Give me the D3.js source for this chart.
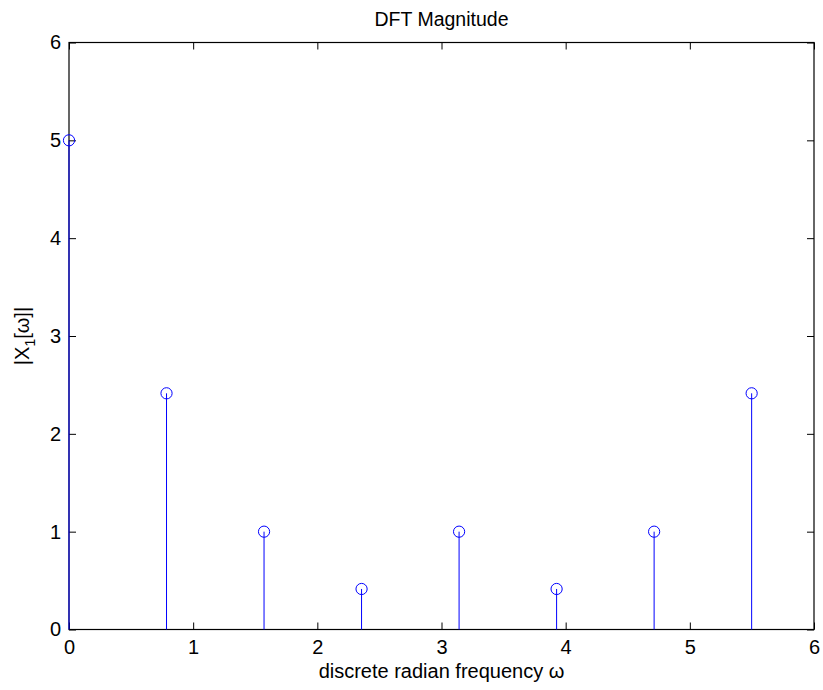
<!DOCTYPE html>
<html>
<head>
<meta charset="utf-8">
<script src="https://cdn.jsdelivr.net/npm/d3@7"></script>
<style>
  body { margin: 0; background: #fff; }
  text { font-family: "Liberation Sans", Arial, Helvetica, sans-serif; }
</style>
</head>
<body>
<svg id="chart" width="823" height="690"></svg>
<script>
// 8-point DFT magnitude, omega_k = 2*pi*k/8
const omega = [0, 0.7854, 1.5708, 2.3562, 3.1416, 3.9270, 4.7124, 5.4978];
const magnitude = [5, 2.4142, 1, 0.4142, 1, 0.4142, 1, 2.4142];
const xTicks = [0, 1, 2, 3, 4, 5, 6];
const yTicks = [0, 1, 2, 3, 4, 5, 6];

const svg = d3.select("#chart");
const plotLeft = 69, plotRight = 814, plotTop = 42.5, plotBottom = 629.5;

const x = d3.scaleLinear().domain([0, 6]).range([plotLeft, plotRight]);
const y = d3.scaleLinear().domain([0, 6]).range([plotBottom, plotTop]);

const tickLen = 7;
const fmt = d3.format("d");

// axis frame with inward ticks on all four sides
const gx = svg.append("g").attr("transform", `translate(0,${plotBottom})`)
  .call(d3.axisBottom(x).tickValues(xTicks).tickFormat(fmt).tickSizeInner(-tickLen).tickSizeOuter(0).tickPadding(10));
const gxTop = svg.append("g").attr("transform", `translate(0,${plotTop})`)
  .call(d3.axisTop(x).tickValues(xTicks).tickSizeInner(-tickLen).tickSizeOuter(0).tickFormat(""));
const gy = svg.append("g").attr("transform", `translate(${plotLeft},0)`)
  .call(d3.axisLeft(y).tickValues(yTicks).tickFormat(fmt).tickSizeInner(-tickLen).tickSizeOuter(0).tickPadding(8));
const gyRight = svg.append("g").attr("transform", `translate(${plotRight},0)`)
  .call(d3.axisRight(y).tickValues(yTicks).tickSizeInner(-tickLen).tickSizeOuter(0).tickFormat(""));

[gx, gxTop, gy, gyRight].forEach(g => {
  g.select(".domain").remove();
  g.selectAll(".tick line").attr("stroke", "#000").attr("stroke-width", 1);
  g.selectAll(".tick text").attr("font-size", 20).attr("fill", "#000");
});

svg.append("rect")
  .attr("x", plotLeft).attr("y", plotTop)
  .attr("width", plotRight - plotLeft).attr("height", plotBottom - plotTop)
  .attr("fill", "none").attr("stroke", "#000").attr("stroke-width", 1.2);

// stems
const pts = omega.map((w, i) => ({ w, m: magnitude[i] }));
svg.append("g").selectAll("line").data(pts).join("line")
  .attr("x1", d => x(d.w)).attr("x2", d => x(d.w))
  .attr("y1", y(0)).attr("y2", d => y(d.m))
  .attr("stroke", "#0000ff").attr("stroke-width", 1);

// markers
svg.append("g").selectAll("circle").data(pts).join("circle")
  .attr("cx", d => x(d.w)).attr("cy", d => y(d.m)).attr("r", 5.6)
  .attr("fill", "none").attr("stroke", "#0000ff").attr("stroke-width", 1);

// title and axis labels
svg.append("text").attr("x", (plotLeft + plotRight) / 2).attr("y", 26)
  .attr("text-anchor", "middle").attr("font-size", 19.5).text("DFT Magnitude");

svg.append("text").attr("x", (plotLeft + plotRight) / 2).attr("y", 678)
  .attr("text-anchor", "middle").attr("font-size", 20).text("discrete radian frequency ω");

const yl = svg.append("text")
  .attr("transform", `translate(29,${(plotTop + plotBottom) / 2}) rotate(-90)`)
  .attr("text-anchor", "middle").attr("font-size", 20);
yl.append("tspan").text("|X");
yl.append("tspan").attr("font-size", 14).attr("dy", 6).text("1");
yl.append("tspan").attr("dy", -6).text("[ω]|");
</script>
</body>
</html>
